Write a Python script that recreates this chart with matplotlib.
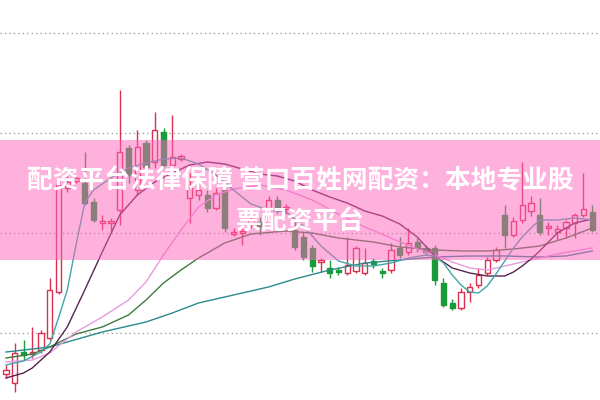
"""K线图 + 均线，上面压一条半透明粉色横幅标题。"""

import matplotlib

matplotlib.use("Agg")
import matplotlib.pyplot as plt  # noqa: E402
from matplotlib.patches import Rectangle  # noqa: E402

plt.rcParams["font.family"] = ["Noto Sans CJK SC", "DejaVu Sans"]
plt.rcParams["axes.unicode_minus"] = False

# 配色
C_UP = "#dc2f4f"       # 阳线（空心红）
C_DOWN = "#1a9a3a"     # 阴线（实心绿）
C_GRID = "#9aa89a"
C_BANNER = "#ff64bc"

TITLE_1 = "配资平台法律保障 营口百姓网配资：本地专业股"
TITLE_2 = "票配资平台"

GRID_LEVELS = [10, 20, 30, 40]

# 日K数据（按顺序）
opens = [5.9, 5.0, 8.1, 7.9, 8.3, 9.5, 14.1, 24.5, 25.2, 25.0,
         23.1, 21.0, 21.0, 22.3, 28.5, 24.3, 29.0, 27.1, 30.1, 26.8,
         27.4, 23.5, 23.8, 23.8, 22.5, 24.3, 19.9, 20.0, 20.9, 21.1,
         22.5, 23.3, 22.4, 20.3, 19.6, 18.5, 17.1, 16.5, 16.3, 16.0,
         16.2, 16.0, 17.2, 16.2, 16.3, 18.5, 18.1, 19.1, 18.5, 18.5,
         15.0, 13.0, 12.5, 14.1, 14.8, 16.0, 17.3, 21.8, 19.8, 21.3,
         22.2, 21.8, 20.5, 20.1, 20.5, 21.0, 21.8, 22.1]
closes = [6.3, 8.0, 7.8, 8.1, 10.0, 14.3, 24.8, 25.1, 25.5, 23.0,
          21.3, 21.2, 21.2, 28.1, 25.8, 28.6, 26.6, 30.3, 26.8, 27.6,
          27.7, 24.6, 24.3, 22.5, 24.0, 20.5, 20.1, 20.2, 21.3, 20.7,
          23.3, 22.3, 22.6, 18.6, 17.6, 16.7, 17.3, 16.0, 16.1, 16.8,
          18.5, 17.0, 16.9, 16.0, 18.3, 17.8, 19.0, 18.6, 18.1, 15.3,
          12.8, 12.5, 14.1, 14.6, 15.8, 17.3, 18.3, 19.8, 21.2, 22.8,
          23.0, 20.1, 20.7, 20.4, 21.1, 21.8, 22.4, 20.3]
highs = [6.8, 9.0, 9.3, 10.6, 10.3, 15.5, 25.5, 25.7, 25.7, 28.1,
         23.5, 21.8, 21.5, 34.3, 28.8, 30.3, 29.3, 32.1, 30.5, 31.8,
         27.9, 26.0, 25.3, 24.3, 24.5, 24.8, 20.5, 20.6, 21.7, 21.6,
         23.7, 23.7, 22.9, 21.1, 20.1, 18.8, 17.5, 17.3, 16.6, 19.6,
         18.7, 18.5, 17.5, 16.5, 19.0, 19.6, 20.5, 19.5, 18.8, 18.8,
         15.5, 13.4, 14.5, 15.0, 16.5, 17.6, 18.6, 22.8, 21.6, 27.1,
         23.7, 23.5, 21.1, 20.8, 21.3, 22.0, 26.0, 22.8]
lows = [5.5, 4.1, 7.3, 7.5, 8.0, 9.3, 13.9, 24.1, 25.0, 22.8,
        21.1, 20.3, 20.1, 20.8, 25.0, 23.8, 26.1, 26.5, 26.5, 25.3,
        27.2, 21.0, 23.3, 22.1, 22.3, 20.1, 19.7, 18.8, 20.5, 19.8,
        22.1, 22.0, 21.9, 18.3, 17.3, 16.1, 16.1, 15.5, 15.8, 15.8,
        16.0, 15.8, 16.5, 15.5, 16.0, 17.5, 17.8, 18.1, 17.8, 14.8,
        12.6, 12.3, 12.3, 13.1, 14.5, 15.8, 17.1, 18.5, 19.6, 21.0,
        21.7, 19.8, 19.8, 19.3, 19.5, 19.5, 21.6, 20.1]

# 均线（按图读数，取部分交易日）
ma5_idx = [0, 2, 4, 5, 6, 7, 8, 9, 10, 12, 14, 16, 18, 20, 22, 24, 26, 28,
           30, 32, 34, 36, 38, 40, 42, 44, 46, 48, 49, 50, 51, 52, 53, 54,
           55, 56, 57, 58, 59, 60, 61, 63, 65, 67]
ma5 = [6.8, 7.2, 8.1, 8.9, 11.5, 14.3, 18.8, 23.0, 24.3, 25.5, 26.5, 27.0,
       27.4, 27.5, 26.9, 25.8, 24.3, 22.9, 22.3, 22.1, 20.7, 18.7, 17.2,
       16.7, 16.7, 17.0, 17.5, 17.8, 17.7, 17.0, 15.8, 14.8, 14.1, 14.0,
       14.7, 15.9, 17.2, 18.5, 19.6, 20.5, 21.3, 21.3, 21.5, 21.3]

ma10_idx = [0, 2, 3, 5, 7, 9, 11, 13, 15, 17, 19, 21, 23, 25, 27, 29, 31,
            33, 35, 37, 39, 41, 43, 45, 47, 49, 51, 53, 55, 57, 58, 59, 60,
            61, 62, 63, 65, 67]
ma10 = [5.5, 6.0, 6.5, 8.1, 10.6, 14.3, 18.1, 21.8, 23.8, 25.1, 26.0, 26.8,
        27.1, 26.9, 26.4, 25.9, 25.7, 25.2, 24.3, 23.6, 23.0, 22.2, 21.7,
        20.9, 19.6, 17.7, 16.5, 16.0, 15.7, 15.7, 16.1, 16.7, 17.4, 18.2,
        19.1, 20.0, 21.0, 21.4]

ma20_idx = [0, 3, 5, 8, 11, 14, 16, 18, 20, 22, 24, 26, 29, 32, 35, 38, 41,
            44, 47, 49, 51, 53, 55, 57, 59, 61, 63, 65, 67]
ma20 = [7.1, 7.3, 8.0, 10.1, 11.6, 13.3, 15.1, 17.8, 20.3, 22.6, 23.8, 24.4,
        24.8, 24.3, 23.3, 21.9, 20.6, 19.5, 18.4, 17.8, 17.1, 16.5, 16.3,
        16.7, 17.1, 17.5, 17.9, 18.2, 18.5]

ma30_idx = [0, 3, 5, 8, 11, 14, 16, 18, 20, 22, 25, 28, 32, 35, 38, 42, 45,
            49, 52, 55, 58, 61, 64, 67]
ma30 = [7.5, 7.9, 8.6, 9.9, 10.6, 11.8, 13.3, 15.0, 16.3, 17.5, 19.0, 19.9,
        20.2, 20.0, 19.5, 19.1, 18.6, 18.3, 18.2, 18.2, 18.4, 18.7, 19.5,
        20.5]

ma60_idx = [0, 5, 9, 11, 16, 19, 22, 26, 30, 33, 37, 41, 45, 49, 53, 57, 61,
            64, 67]
ma60 = [8.1, 8.6, 9.6, 10.1, 11.1, 12.0, 13.0, 13.8, 14.6, 15.4, 16.3, 17.0,
        17.3, 17.6, 17.7, 17.7, 17.6, 17.7, 18.2]

MA_STYLES = [
    (ma60_idx, ma60, "#2b8a8a"),
    (ma30_idx, ma30, "#3d7a3d"),
    (ma20_idx, ma20, "#e89ae0"),
    (ma10_idx, ma10, "#5a2350"),
    (ma5_idx, ma5, "#3fa7a7"),
]

fig = plt.figure(figsize=(6, 4), dpi=100)
ax = fig.add_axes([0, 0, 1, 1])
ax.set_xlim(-0.686, 67.886)
ax.set_ylim(3.3, 43.3)
ax.axis("off")

for lv in GRID_LEVELS:
    ax.axhline(lv, color=C_GRID, linewidth=1.0, linestyle=(0, (1, 2.2)), zorder=1)

width = 0.62
for i, (o, c, h, l) in enumerate(zip(opens, closes, highs, lows)):
    up = c >= o
    col = C_UP if up else C_DOWN
    ax.vlines(i, l, h, color=col, linewidth=1.0, zorder=2)
    bottom = min(o, c)
    height = max(abs(c - o), 0.15)
    ax.bar(i, height, width, bottom=bottom, facecolor="white" if up else col,
           edgecolor=col, linewidth=1.0, zorder=3)

for idx, vals, col in MA_STYLES:
    ax.plot(idx, vals, color=col, linewidth=1.0, zorder=4)

# 半透明横幅
ax.add_patch(Rectangle((0, 0.35), 1, 0.30, transform=ax.transAxes,
                       facecolor=C_BANNER, alpha=0.5, edgecolor="none", zorder=5))
ax.text(0.5, 0.5475, TITLE_1, transform=ax.transAxes, ha="center", va="center",
        color="white", fontsize=18.5, fontweight="bold", zorder=6)
ax.text(0.5, 0.4475, TITLE_2, transform=ax.transAxes, ha="center", va="center",
        color="white", fontsize=18.5, fontweight="bold", zorder=6)

fig.savefig("out.png", dpi=100)
